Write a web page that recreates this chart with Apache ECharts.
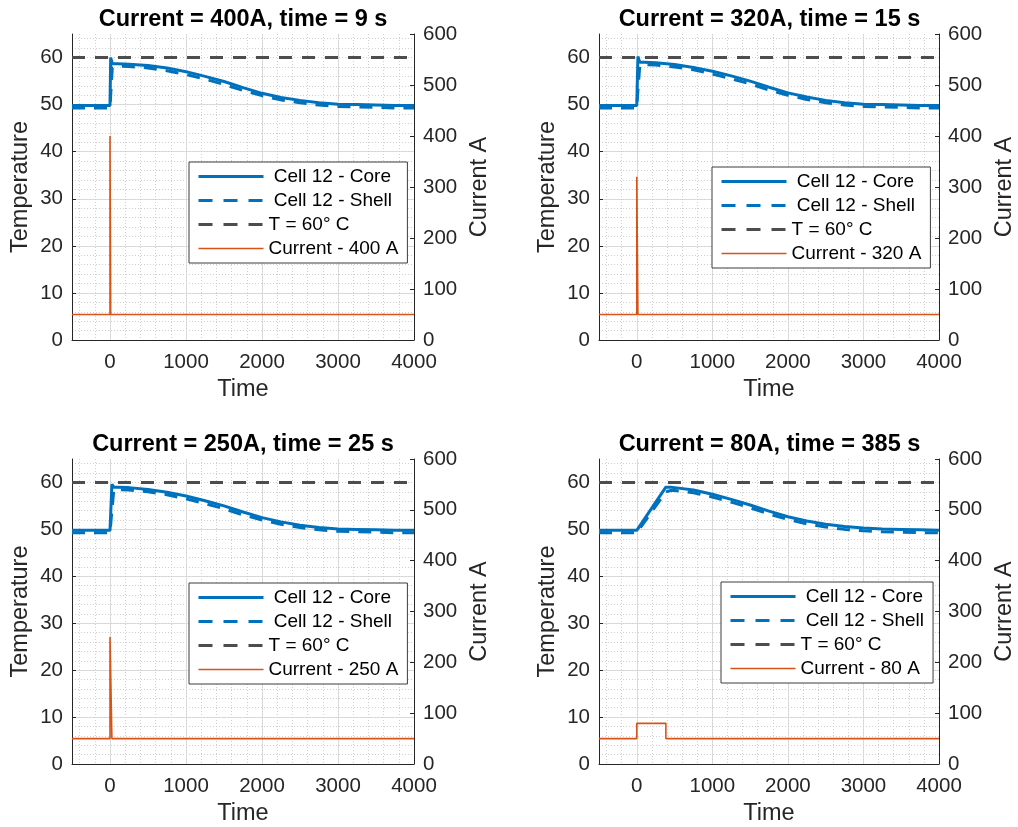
<!DOCTYPE html>
<html>
<head>
<meta charset="utf-8">
<script src="https://cdn.jsdelivr.net/npm/echarts@6/dist/echarts.min.js"></script>
<style>
html,body{margin:0;padding:0;background:#fff;}
#chart{width:1018px;height:827px;}
</style>
</head>
<body>
<div id="chart"></div>
<script>
// ---------- data ----------
const xTicks = [0, 1000, 2000, 3000, 4000];
const tempTicks = [0, 10, 20, 30, 40, 50, 60];
const currentTicks = [0, 100, 200, 300, 400, 500, 600];
const threshold = 60;

const titles = ['Current = 400A, time = 9 s', 'Current = 320A, time = 15 s',
                'Current = 250A, time = 25 s', 'Current = 80A, time = 385 s'];
const currentNames = ['Current - 400 A', 'Current - 320 A', 'Current - 250 A', 'Current - 80 A'];

// Panel 1: 400 A, 9 s
const t1 = [-500, 0, 9, 30, 100, 250, 500, 750, 1000, 1250, 1500, 1750, 2000, 2250, 2500, 2750, 3000, 3250, 3500, 3750, 4000];
const core1 = [49.8, 49.8, 60.0, 58.7, 58.7, 58.6, 58.3, 57.8, 57.0, 56.0, 54.9, 53.6, 52.4, 51.5, 50.9, 50.4, 50.1, 50.0, 49.9, 49.8, 49.8];
const shell1 = [49.3, 49.3, 52.0, 57.8, 58.2, 58.1, 57.8, 57.2, 56.4, 55.4, 54.3, 53.0, 51.9, 51.0, 50.4, 49.9, 49.6, 49.5, 49.4, 49.3, 49.3];
const curT1 = [-500, 0, 0, 9, 9, 4000];
const cur1 = [50, 50, 400, 400, 50, 50];

// Panel 2: 320 A, 15 s
const t2 = [-500, 0, 15, 40, 100, 250, 500, 750, 1000, 1250, 1500, 1750, 2000, 2250, 2500, 2750, 3000, 3250, 3500, 3750, 4000];
const core2 = [49.8, 49.8, 60.2, 59.0, 59.0, 58.9, 58.5, 57.9, 57.1, 56.1, 55.0, 53.7, 52.5, 51.6, 50.9, 50.4, 50.1, 50.0, 49.9, 49.8, 49.8];
const shell2 = [49.3, 49.3, 53.0, 58.3, 58.5, 58.4, 58.0, 57.4, 56.5, 55.5, 54.4, 53.1, 52.0, 51.1, 50.4, 49.9, 49.6, 49.5, 49.4, 49.3, 49.3];
const curT2 = [-500, 0, 0, 15, 15, 4000];
const cur2 = [50, 50, 320, 320, 50, 50];

// Panel 3: 250 A, 25 s
const t3 = [-500, 0, 25, 50, 100, 250, 500, 750, 1000, 1250, 1500, 1750, 2000, 2250, 2500, 2750, 3000, 3250, 3500, 3750, 4000];
const core3 = [49.8, 49.8, 59.6, 59.0, 59.0, 58.9, 58.5, 57.9, 57.1, 56.1, 55.0, 53.7, 52.5, 51.6, 50.9, 50.4, 50.1, 50.0, 49.9, 49.8, 49.8];
const shell3 = [49.3, 49.3, 54.0, 58.4, 58.5, 58.4, 58.0, 57.4, 56.5, 55.5, 54.4, 53.1, 52.0, 51.1, 50.4, 49.9, 49.6, 49.5, 49.4, 49.3, 49.3];
const curT3 = [-500, 0, 0, 25, 25, 4000];
const cur3 = [50, 50, 250, 250, 50, 50];

// Panel 4: 80 A, 385 s
const t4 = [-500, 0, 385, 450, 500, 750, 1000, 1250, 1500, 1750, 2000, 2250, 2500, 2750, 3000, 3250, 3500, 3750, 4000];
const core4 = [49.8, 49.8, 59.0, 59.0, 58.9, 58.4, 57.5, 56.4, 55.2, 53.9, 52.7, 51.8, 51.1, 50.6, 50.3, 50.1, 50.0, 49.9, 49.8];
const shell4 = [49.3, 49.3, 58.0, 58.3, 58.3, 57.8, 56.9, 55.8, 54.6, 53.3, 52.1, 51.2, 50.5, 50.0, 49.7, 49.5, 49.4, 49.3, 49.3];
const curT4 = [-500, 0, 0, 385, 385, 4000];
const cur4 = [50, 50, 80, 80, 50, 50];

const panels = [
  {t: t1, core: core1, shell: shell1, ct: curT1, cur: cur1},
  {t: t2, core: core2, shell: shell2, ct: curT2, cur: cur2},
  {t: t3, core: core3, shell: shell3, ct: curT3, cur: cur3},
  {t: t4, core: core4, shell: shell4, ct: curT4, cur: cur4}
];

// ---------- layout / style ----------
const FONT = 'Liberation Sans, Arial, Helvetica, sans-serif';
const AX = '#262626';
const MAJOR = '#dedede';
const MINOR = '#d0d0d0';
const BLUE = '#0072BD';
const ORANGE = '#D95319';
const GRAYL = '#4d4d4d';
const T = 'rgba(0,0,0,0)';

const gridPos = [
  {left: 72, top: 34, width: 342, height: 306},
  {left: 599, top: 34, width: 341, height: 306},
  {left: 72, top: 459, width: 342, height: 306},
  {left: 599, top: 459, width: 341, height: 306}
];
const legendPos = [
  {left: 189, top: 162},
  {left: 712, top: 167},
  {left: 189, top: 583},
  {left: 721, top: 582}
];

const grids = [], xAxes = [], yAxes = [], series = [], legends = [], titleList = [];

const pair = (xs, ys) => xs.map((x, i) => [x, ys[i]]);

panels.forEach((p, k) => {
  const g = gridPos[k];
  grids.push({left: g.left, top: g.top, width: g.width, height: g.height, show: false});
  titleList.push({
    text: titles[k], left: g.left + g.width / 2, top: g.top - 26, textAlign: 'center',
    padding: 0,
    textStyle: {fontFamily: FONT, fontSize: 23.5, fontWeight: 'bold', color: '#000'}
  });
  // main x axis
  xAxes.push({
    type: 'value', gridIndex: k, position: 'bottom', min: -500, max: 4000, interval: 500,
    name: 'Time', nameLocation: 'middle', nameGap: 38,
    nameTextStyle: {fontFamily: FONT, fontSize: 23.5, color: AX},
    axisLine: {show: true, onZero: false, lineStyle: {color: AX, width: 1}},
    axisTick: {show: false},
    axisLabel: {
      show: true, margin: 12, customValues: xTicks,
      formatter: v => (xTicks.indexOf(v) >= 0 ? String(v) : ''),
      fontFamily: FONT, fontSize: 20.5, color: AX
    },
    splitLine: {show: true, lineStyle: {color: [T, MAJOR], width: 1}}
  });
  // minor x grid axis
  xAxes.push({
    type: 'value', gridIndex: k, position: 'top', min: -500, max: 4000, interval: 100,
    axisLine: {show: false}, axisTick: {show: false}, axisLabel: {show: false},
    splitLine: {show: true, lineStyle: {color: [T, MINOR], width: 1, type: [1, 2]}}
  });
  // left temperature axis
  yAxes.push({
    type: 'value', gridIndex: k, position: 'left', min: 0, max: 65, interval: 10,
    name: 'Temperature', nameLocation: 'middle', nameGap: 39,
    nameTextStyle: {fontFamily: FONT, fontSize: 23.5, color: AX},
    axisLine: {show: true, onZero: false, lineStyle: {color: AX, width: 1}},
    axisTick: {show: true, inside: true, length: 4, customValues: tempTicks, lineStyle: {color: AX}},
    axisLabel: {
      show: true, margin: 9, customValues: tempTicks,
      formatter: v => (tempTicks.indexOf(v) >= 0 ? String(v) : ''),
      fontFamily: FONT, fontSize: 20.5, color: AX
    },
    splitLine: {show: true, showMaxLine: false, lineStyle: {color: MAJOR, width: 1}}
  });
  // right current axis
  yAxes.push({
    type: 'value', gridIndex: k, position: 'right', min: 0, max: 600, interval: 100,
    name: 'Current A', nameLocation: 'middle', nameGap: 54,
    nameTextStyle: {fontFamily: FONT, fontSize: 23.5, color: AX},
    axisLine: {show: true, onZero: false, lineStyle: {color: AX, width: 1}},
    axisTick: {show: true, inside: true, length: 4, lineStyle: {color: AX}},
    axisLabel: {show: true, margin: 9, fontFamily: FONT, fontSize: 20.5, color: AX,
      formatter: v => (currentTicks.indexOf(v) >= 0 ? String(v) : '')},
    splitLine: {show: false}
  });
  // minor y grid axis
  yAxes.push({
    type: 'value', gridIndex: k, position: 'left', min: 0, max: 65, interval: 1,
    axisLine: {show: false, onZero: false}, axisTick: {show: false}, axisLabel: {show: false},
    splitLine: {show: true, lineStyle: {color: [MINOR, T], width: 1, type: [1, 2]}}
  });

  const xi = 2 * k, yl = 3 * k, yr = 3 * k + 1;
  series.push({
    name: ' Cell 12 - Core', type: 'line', xAxisIndex: xi, yAxisIndex: yl,
    data: pair(p.t, p.core), symbol: 'none', showSymbol: false,
    lineStyle: {color: BLUE, width: 3}, itemStyle: {color: BLUE}, z: 3
  });
  series.push({
    name: ' Cell 12 - Shell', type: 'line', xAxisIndex: xi, yAxisIndex: yl,
    data: pair(p.t, p.shell), symbol: 'none', showSymbol: false,
    lineStyle: {color: BLUE, width: 3, type: [13, 9]}, itemStyle: {color: BLUE}, z: 3
  });
  series.push({
    name: 'T = 60° C', type: 'line', xAxisIndex: xi, yAxisIndex: yl,
    data: [[-500, threshold], [4000, threshold]], symbol: 'none', showSymbol: false,
    lineStyle: {color: GRAYL, width: 3, type: [13, 10]}, itemStyle: {color: GRAYL}, z: 3
  });
  series.push({
    name: currentNames[k], type: 'line', xAxisIndex: xi, yAxisIndex: yr,
    data: pair(p.ct, p.cur), symbol: 'none', showSymbol: false,
    lineStyle: {color: ORANGE, width: 1.6}, itemStyle: {color: ORANGE}, z: 4
  });

  legends.push({
    show: true, orient: 'vertical', left: legendPos[k].left, top: legendPos[k].top,
    data: [
      {name: ' Cell 12 - Core', lineStyle: {width: 3}},
      {name: ' Cell 12 - Shell', lineStyle: {width: 3, type: [14, 11]}},
      {name: 'T = 60° C', lineStyle: {width: 3, type: [14, 11]}},
      {name: currentNames[k], lineStyle: {width: 1.6}}
    ],
    itemWidth: 65, itemHeight: 14, itemGap: 5, padding: [5, 9, 5, 8],
    itemStyle: {opacity: 0},
    backgroundColor: '#fff', borderColor: '#3c3c3c', borderWidth: 1, borderRadius: 0,
    selectedMode: false,
    textStyle: {fontFamily: FONT, fontSize: 19, color: '#000'}
  });
});

const chart = echarts.init(document.getElementById('chart'), null, {renderer: 'canvas'});
chart.setOption({
  animation: false,
  backgroundColor: '#fff',
  title: titleList,
  grid: grids,
  xAxis: xAxes,
  yAxis: yAxes,
  legend: legends,
  series: series
});
</script>
</body>
</html>
